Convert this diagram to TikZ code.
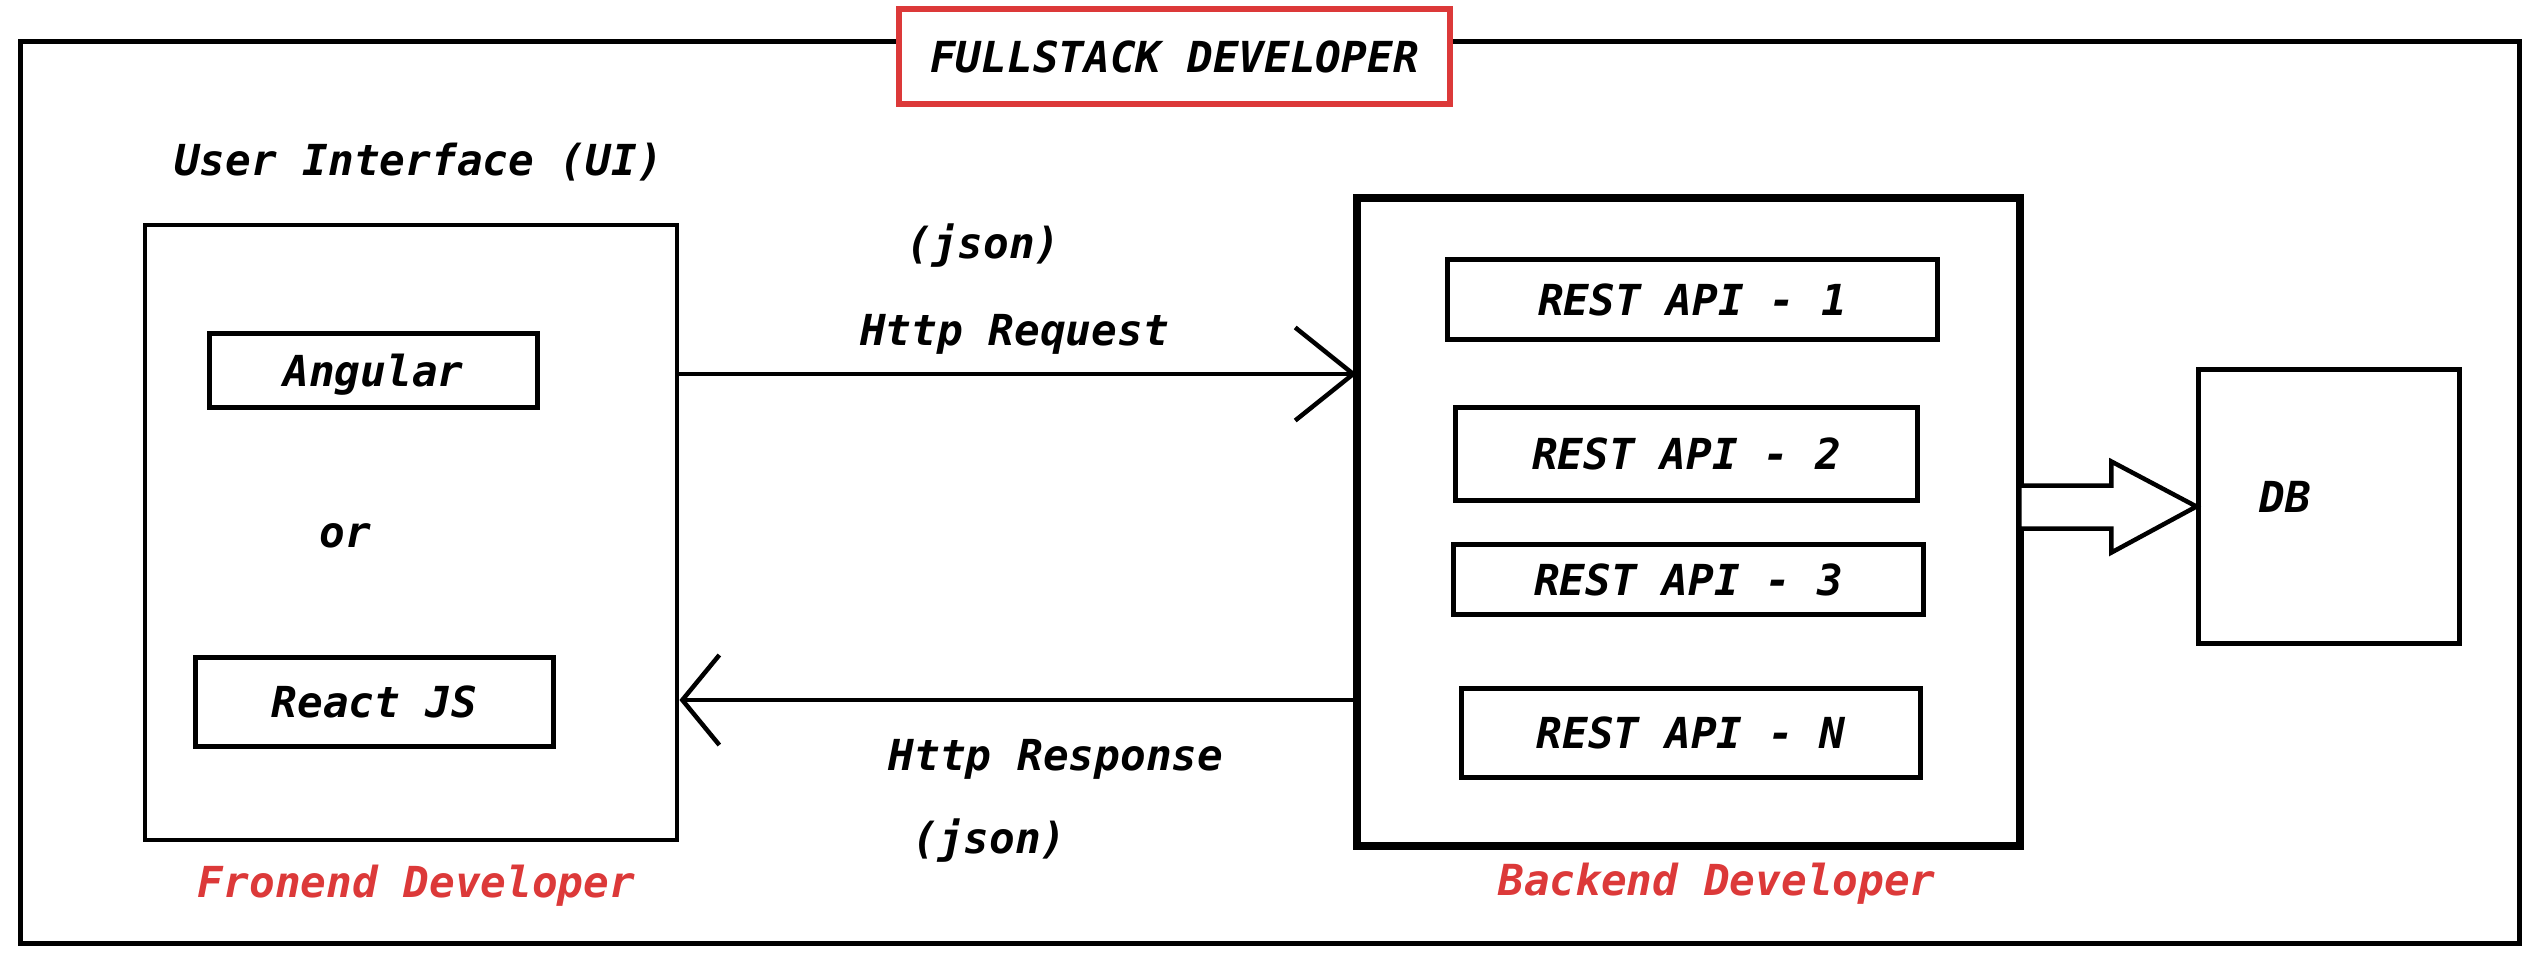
\documentclass[tikz,border=0pt]{standalone}
\usepackage{fontspec}
\setmonofont{DejaVu Sans Mono}[BoldFont={DejaVu Sans Mono Bold}, ItalicFont={DejaVu Sans Mono Oblique}, BoldItalicFont={DejaVu Sans Mono Bold Oblique}]
\usepackage{tikz}
\usetikzlibrary{arrows.meta,calc}
\definecolor{devred}{RGB}{220,57,57}
\newcommand{\diagfont}{\ttfamily\bfseries\itshape\fontsize{12.15}{14}\selectfont}
\tikzstyle{outerframe} = [rectangle, draw=black, line width=0.05cm, inner sep=0pt]
\tikzstyle{titlebox} = [rectangle, draw=devred, line width=0.055cm, fill=white, inner sep=0pt, text height=8.86pt, text depth=0pt, font=\diagfont]
\tikzstyle{uibox} = [rectangle, draw=black, line width=0.045cm, inner sep=0pt]
\tikzstyle{backendbox} = [rectangle, draw=black, line width=0.085cm, inner sep=0pt, outer sep=0pt]
\tikzstyle{techbox} = [rectangle, draw=black, line width=0.05cm, inner sep=0pt, text height=8.86pt, text depth=0pt, font=\diagfont]
\tikzstyle{plaintext} = [inner sep=0pt, font=\diagfont]
\tikzstyle{devlabel} = [inner sep=0pt, font=\diagfont, text=devred]
\tikzstyle{reqarrow} = [line width=0.045cm, -{Straight Barb[length=0.58cm, width=0.93cm]}]
\tikzstyle{resarrow} = [line width=0.045cm, -{Straight Barb[length=0.37cm, width=0.9cm]}]
\tikzstyle{dbarrow} = [line width=0.045cm, draw=black, fill=white, line join=miter]

\begin{document}
\begin{tikzpicture}[x=0.01cm, y=-0.01cm]
\useasboundingbox (0,0) rectangle (2546,960);
\node (frame) [outerframe, minimum width=24.98cm, minimum height=9.01cm] at (1270,492.5) {};
\node (fullstack) [titlebox, minimum width=5.51cm, minimum height=0.95cm] at (1174.5,56.5) {FULLSTACK DEVELOPER};

\node (ui) [uibox, minimum width=5.32cm, minimum height=6.15cm] at (411,532.5) {};
\node (uilabel) [plaintext, anchor=base] at (418.5,175) {User Interface (UI)};
\node (angular) [techbox, minimum width=3.27cm, minimum height=0.73cm] at (373.5,370.5) {Angular};
\node (ortext) [plaintext, anchor=base] at (345,547) {or};
\node (react) [techbox, minimum width=3.57cm, minimum height=0.88cm] at (374.5,702) {React JS};
\node (frontdev) [devlabel, anchor=base] at (416.5,897) {Fronend Developer};

\node (backend) [backendbox, minimum width=6.63cm, minimum height=6.48cm] at (1688.5,522) {};
\node (rest1) [techbox, minimum width=4.89cm, minimum height=0.79cm] at (1692.5,299.5) {REST API - 1};
\node (rest2) [techbox, minimum width=4.61cm, minimum height=0.92cm] at (1686.5,454) {REST API - 2};
\node (rest3) [techbox, minimum width=4.69cm, minimum height=0.69cm] at (1688.5,579.5) {REST API - 3};
\node (restn) [techbox, minimum width=4.58cm, minimum height=0.88cm] at (1691,733) {REST API - N};
\node (backdev) [devlabel, anchor=base] at (1717,895) {Backend Developer};

\node (db) [techbox, minimum width=2.6cm, minimum height=2.73cm] at (2329,506.5) {};
\node (dblabel) [plaintext, anchor=base] at (2285,512) {DB};

\node (jsonreq) [plaintext, anchor=base] at (983.5,258) {(json)};
\node (httpreq) [plaintext, anchor=base] at (1014.5,345) {Http Request};
\node (httpres) [plaintext, anchor=base] at (1056,770) {Http Response};
\node (jsonres) [plaintext, anchor=base] at (989.5,853) {(json)};

\coordinate (reqy) at (0,374);
\coordinate (resy) at (0,700);
\draw [reqarrow] (ui.east |- reqy) -- (backend.west |- reqy);
\draw [resarrow] (backend.west |- resy) -- (ui.east |- resy);
\draw [dbarrow] (db.west) -- ++(-85,-45) -- ++(0,24) -- ++(-92,0) -- ++(0,43) -- ++(92,0) -- ++(0,24) -- cycle;
\end{tikzpicture}
\end{document}
